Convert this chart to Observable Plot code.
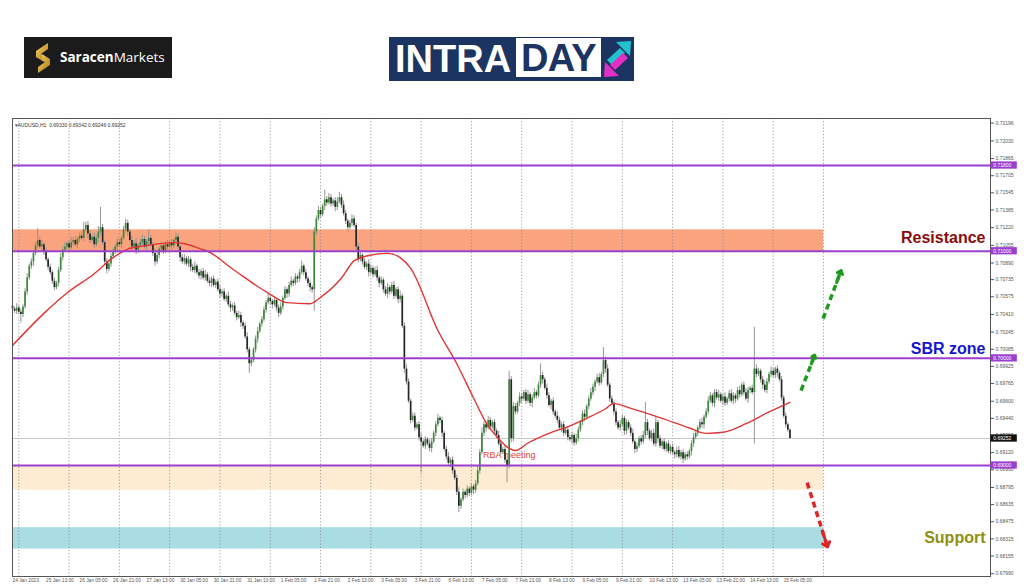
<!DOCTYPE html>
<html><head><meta charset="utf-8">
<script src="https://cdn.jsdelivr.net/npm/d3@7"></script>
<script src="https://cdn.jsdelivr.net/npm/@observablehq/plot@0.6"></script>
<style>
body{margin:0;background:#fff;}
#wrap{position:relative;width:1024px;height:587px;overflow:hidden;font-family:"Liberation Sans",Arial,sans-serif;}
#chart{position:absolute;left:0;top:0;}
.saracen{position:absolute;left:24px;top:37px;width:148px;height:41px;background:#1b1b1b;}
.saracen .txt{position:absolute;left:36px;top:0;line-height:41px;font-family:"Open Sans",sans-serif;font-size:13.5px;color:#fff;white-space:nowrap;}
.intra{position:absolute;left:389px;top:37px;width:245px;height:44px;background:#1c3461;}
.intra .a{position:absolute;left:6px;top:0;line-height:44px;font-weight:bold;font-size:38px;color:#fff;letter-spacing:0px;}
.intra .b{position:absolute;left:127px;top:1px;width:85px;height:39px;background:#fff;text-align:center;line-height:40px;font-weight:bold;font-size:38px;color:#1c3461;letter-spacing:-0.5px;}
</style></head><body>
<div id="wrap">
  <div id="chart"></div>
  <div class="saracen">
    <svg style="position:absolute;left:9px;top:6px" width="20" height="30" viewBox="0 0 20 30">
      <defs><linearGradient id="gold" x1="0" y1="0" x2="1" y2="1"><stop offset="0" stop-color="#f8d468"/><stop offset="1" stop-color="#a8740f"/></linearGradient></defs>
      <path d="M15 0 L3 8 L3 14 L11 19 L11 13 L8 11 L15 6 Z" fill="url(#gold)"/>
      <path d="M5 30 L17 22 L17 16 L9 11 L9 17 L12 19 L5 24 Z" fill="url(#gold)"/>
    </svg>
    <div class="txt"><b style="font-weight:700">Saracen</b><span style="font-weight:400">Markets</span></div>
  </div>
  <div class="intra">
    <div class="a">INTRA</div>
    <div class="b">DAY</div>
    <svg style="position:absolute;left:214px;top:3px" width="29" height="38" viewBox="0 0 29 38">
      <polygon points="28,1 13,2 27,16" fill="#22c3cf"/>
      <polygon points="17,8 22,13 9,25 4,20" fill="#22c3cf"/>
      <polygon points="1,37 16,36 2,22" fill="#e22fc4"/>
      <polygon points="12,30 7,25 20,13 25,18" fill="#e22fc4"/>
    </svg>
  </div>
</div>
<script>
// ---- data (prices in pips x 1e-4) ----
const symbol = "AUDUSD,H1";
const firstOpen = 7049;
const closes = [
7046,7044,7047,7043,7041,7048,7062,7075,7086,7090,7098,7105,7110,7104,7106,7100,7092,7085,7080,7072,7066,7070,7082,7094,
7101,7104,7107,7103,7108,7110,7106,7111,7114,7112,7120,7124,7116,7110,7113,7106,7112,7118,7122,7108,7090,7083,7088,7095,
7100,7104,7108,7106,7112,7120,7126,7118,7110,7104,7107,7101,7105,7108,7111,7104,7109,7112,7106,7098,7090,7096,7102,7105,
7100,7106,7104,7108,7105,7110,7113,7104,7094,7090,7093,7088,7092,7085,7082,7086,7080,7077,7081,7075,7078,7072,7070,7074,
7068,7071,7064,7060,7062,7055,7058,7050,7047,7049,7042,7038,7040,7033,7030,7020,7008,6995,6998,7008,7018,7025,7032,7036,
7045,7052,7056,7053,7050,7054,7047,7042,7048,7056,7064,7060,7068,7072,7070,7076,7074,7080,7086,7080,7074,7070,7066,7064,
7118,7130,7138,7134,7142,7148,7145,7150,7144,7147,7141,7146,7150,7143,7135,7128,7122,7126,7130,7124,7104,7092,7096,7090,
7085,7088,7080,7084,7078,7082,7075,7070,7073,7064,7060,7066,7062,7068,7058,7064,7055,7058,7030,6990,6978,6960,6942,6946,
6935,6938,6926,6922,6918,6924,6920,6916,6922,6930,6938,6944,6942,6930,6915,6908,6902,6905,6895,6888,6875,6862,6868,6875,
6872,6878,6874,6880,6877,6883,6895,6912,6930,6938,6935,6942,6936,6940,6932,6928,6920,6912,6915,6905,6900,6980,6925,6955,
6950,6958,6964,6962,6968,6960,6966,6958,6963,6968,6965,6975,6984,6980,6972,6965,6956,6960,6950,6946,6942,6935,6938,6930,
6933,6926,6924,6928,6921,6925,6933,6940,6948,6945,6955,6962,6968,6973,6978,6982,6977,6985,6998,6990,6975,6962,6958,6950,
6940,6935,6938,6944,6932,6940,6935,6930,6922,6915,6918,6925,6922,6928,6940,6932,6925,6930,6920,6940,6925,6918,6922,6915,
6920,6913,6917,6912,6910,6914,6908,6912,6906,6910,6908,6913,6920,6926,6930,6935,6940,6938,6945,6950,6960,6965,6958,6968,
6963,6966,6960,6964,6958,6962,6967,6960,6965,6962,6970,6966,6975,6968,6962,6970,6972,6968,6990,6985,6988,6980,6975,6970,
6978,6985,6988,6984,6990,6986,6980,6963,6946,6938,6933,6925.2];
const wickUp = [
3,2,4,2,3,2,3,4,2,3,2,3,11,3,4,2,3,2,3,2,3,2,3,4,
3,4,2,3,5,3,4,2,3,4,7,3,4,3,2,4,3,5,19,3,2,3,4,3,
3,2,4,3,2,3,4,3,2,4,3,5,2,3,4,3,2,8,3,2,4,3,2,3,
2,3,4,2,3,2,4,3,2,3,4,2,3,2,3,4,2,3,2,3,4,2,3,2,
3,2,3,4,2,3,2,4,3,2,3,2,4,3,2,3,4,2,3,2,3,4,2,3,
3,2,4,3,2,3,2,3,4,2,3,2,3,4,2,3,2,3,5,2,3,2,3,2,
4,3,4,3,2,9,3,4,3,2,3,4,5,3,4,3,2,3,4,3,2,4,3,2,
3,2,4,3,2,3,4,2,3,2,3,4,2,3,4,2,3,5,2,3,4,3,2,3,
3,2,3,4,2,3,2,4,3,2,3,4,2,3,2,3,4,2,3,2,3,4,2,3,
2,3,2,3,2,3,4,3,5,3,2,4,3,2,3,2,4,3,2,3,2,8,3,4,
3,2,4,3,2,3,4,2,3,4,2,3,11,3,2,4,3,2,3,2,4,3,2,3,
2,3,2,3,2,4,3,2,3,4,2,3,4,3,2,3,4,2,12,3,4,2,3,2,
3,2,4,3,2,3,2,3,4,2,3,2,3,4,19,3,2,3,4,5,2,3,2,3,
2,3,2,3,2,3,4,2,3,2,3,2,3,4,3,2,3,4,2,3,4,3,2,3,
3,4,2,3,4,2,3,4,3,2,3,4,2,3,4,3,2,3,39,4,3,2,3,4,
3,2,4,3,2,3,2,3,2,3,2,1.2];
const wickDn = [
3,2,3,2,8,3,2,3,2,3,4,2,3,2,3,4,2,3,2,3,3,2,3,2,
3,2,3,4,2,3,2,4,3,2,3,2,4,3,2,3,2,4,3,2,3,4,2,3,
2,3,4,2,3,2,3,4,2,3,2,4,3,2,3,2,3,4,2,3,4,2,3,2,
3,2,3,2,4,3,2,3,4,2,3,2,3,4,2,3,2,3,4,2,3,2,3,4,
2,3,2,4,3,2,3,2,4,3,2,3,2,4,3,2,3,9,3,2,3,4,2,3,
2,3,2,3,4,2,3,4,2,3,2,4,3,2,3,2,4,3,2,3,2,3,4,3,
20,3,2,3,2,4,3,2,3,2,4,3,2,3,2,3,4,2,3,2,4,3,2,3,
2,3,4,2,3,2,3,4,2,3,2,4,3,2,3,2,4,3,2,4,3,2,3,2,
3,2,3,29,2,3,2,3,4,2,3,2,3,4,2,3,2,4,3,2,3,6,3,2,
3,2,3,2,4,3,2,3,2,3,4,2,3,2,4,3,2,3,2,3,16,3,4,3,
3,2,3,4,2,3,2,3,4,2,3,2,3,4,2,3,2,4,3,2,3,2,4,3,
2,3,2,4,3,2,3,2,3,4,2,3,2,3,4,2,3,2,3,4,2,3,2,3,
3,2,3,2,4,3,2,3,2,4,3,2,3,2,3,4,2,3,2,3,4,2,3,2,
3,2,3,2,4,3,2,3,4,2,3,2,4,3,2,3,2,3,4,2,3,2,3,4,
2,3,2,4,3,2,3,2,3,4,2,3,2,3,2,4,3,2,48,3,2,3,4,2,
3,2,3,2,3,4,2,3,2,3,2,0.6];

// moving average (bar index, value)
const maIdx = [0,15,26,39,48,55,63,77,82,90,93,106,122,131,142,147,157,163,170,179,185,190,203,212,220,226,232,237,240,246,256,266,274,283,287,294,310,323,331,339,350,361,371];
const maVal = [0.7012,0.7042,0.7061,0.7079,0.7094,0.7102,0.7105,0.7108,0.7107,0.7102,0.7100,0.7082,0.7061,0.7052,0.7051,0.7057,0.7075,0.7091,0.7096,0.7098,0.7094,0.7084,0.7026,0.6995,0.6963,0.6940,0.6925,0.6916,0.6914,0.6921,0.6930,0.6937,0.6944,0.6953,0.6958,0.6954,0.6944,0.6935,0.6930,0.6931,0.6939,0.6950,0.6959];

const yTicks = [0.72196,0.72030,0.71865,0.71705,0.71545,0.71385,0.71220,0.71055,0.70890,0.70735,0.70575,0.70410,0.70245,0.70085,0.69925,0.69765,0.69600,0.69440,0.69280,0.69120,0.68960,0.68795,0.68635,0.68475,0.68315,0.68155,0.67990];
const xLabIdx = [0,16,32,48,64,80,96,112,128,144,160,176,192,208,224,240,256,272,288,304,320,336,352,368];
const xLabels = ["24 Jan 2023","25 Jan 13:00","26 Jan 05:00","26 Jan 21:00","27 Jan 13:00","30 Jan 05:00","30 Jan 21:00","31 Jan 13:00","1 Feb 05:00","1 Feb 21:00","2 Feb 13:00","3 Feb 05:00","3 Feb 21:00","6 Feb 13:00","7 Feb 05:00","7 Feb 21:00","8 Feb 13:00","9 Feb 05:00","9 Feb 21:00","10 Feb 13:00","13 Feb 05:00","13 Feb 21:00","14 Feb 13:00","15 Feb 05:00"];
const dayStartIdx = [3,27,51,75,99,123,147,171,195,219,243,267,291,315,339,363,387];

const levels = [0.718, 0.710, 0.700, 0.690];
const zoneLo = [0.7100, 0.6877, 0.6822];
const zoneHi = [0.7120, 0.6900, 0.6842];
const zoneColor = ["#f9a47e", "#fdebd2", "#a9dde3"];
const zoneEndIdx = 387;

const notes = ["Resistance", "SBR zone", "Support"];
const noteY = [0.71128, 0.70092, 0.68328];
const noteColor = ["#8b0b0b", "#1414d6", "#8f8f12"];

const arrowX1 = [386.8, 376.3, 379.2];
const arrowY1 = [0.7037, 0.6970, 0.6884];
const arrowX2 = [395.4, 382.8, 388.9];
const arrowY2 = [0.7082, 0.7003, 0.6824];
const arrowColor = ["#1f9a1f", "#1f9a1f", "#e02424"];

const eventLabel = {i: 224.5, p: 0.69093, text: "RBA meeting"};

// ---- build tables ----
const bars = closes.map((c, i) => {
  const o = i === 0 ? firstOpen : closes[i - 1];
  const h = Math.max(o, c) + wickUp[i];
  const l = Math.min(o, c) - wickDn[i];
  return {i, o: o / 1e4, c: c / 1e4, h: h / 1e4, l: l / 1e4};
});
const last = bars[bars.length - 1];
const f5 = d3.format(".5f");
const ma = maIdx.map((i, k) => ({i, v: maVal[k]}));
const zones = zoneLo.map((lo, k) => ({lo, hi: zoneHi[k], color: zoneColor[k]}));
const noteData = notes.map((t, k) => ({t, y: noteY[k], color: noteColor[k]}));
const arrows = arrowX1.map((x1, k) => ({x1, y1: arrowY1[k], x2: arrowX2[k], y2: arrowY2[k], color: arrowColor[k]}));
const xLab = xLabIdx.map((i, k) => ({i, t: xLabels[k]}));
const priceLabs = levels.map(p => ({p, bg: "#9b3fcf"})).concat([{p: last.c, bg: "#111"}]);

const xMax = 466.7;
const boxH = 0.00034;

const chart = Plot.plot({
  width: 1024, height: 587,
  marginTop: 118, marginBottom: 11, marginLeft: 12, marginRight: 34,
  x: {domain: [0, xMax], axis: null},
  y: {domain: [0.67964, 0.72239], axis: null},
  style: {background: "transparent", fontFamily: "Liberation Sans, Arial, sans-serif", overflow: "visible"},
  marks: [
    Plot.rect(zones, {x1: 0, x2: zoneEndIdx, y1: "lo", y2: "hi", fill: d => d.color}),
    Plot.ruleX(dayStartIdx, {stroke: "#8a8a8a", strokeWidth: 0.8, strokeDasharray: "1.2,2"}),
    Plot.ruleY([last.c], {stroke: "#c8c8c8", strokeWidth: 1}),
    Plot.text([eventLabel], {x: "i", y: "p", text: "text", fill: "#e0443c", fontSize: 9, textAnchor: "start"}),
    Plot.ruleX(bars, {x: "i", y1: "l", y2: "h", stroke: "#959595", strokeWidth: 1}),
    Plot.ruleX(bars.filter(d => d.c >= d.o), {x: "i", y1: "o", y2: "c", stroke: "#3a8a3a", strokeWidth: 1.7}),
    Plot.ruleX(bars.filter(d => d.c < d.o), {x: "i", y1: "o", y2: "c", stroke: "#262626", strokeWidth: 1.7}),
    Plot.line(ma, {x: "i", y: "v", stroke: "#e03535", strokeWidth: 1.4, curve: "monotone-x"}),
    Plot.ruleY(levels, {stroke: "#9b3fcf", strokeWidth: 2}),
    Plot.frame({stroke: "#555", strokeWidth: 1}),
    Plot.axisY(yTicks, {anchor: "right", tickFormat: f5, fontSize: 5, tickSize: 3, tickPadding: 2, color: "#555", label: null}),
    Plot.rect(priceLabs, {x1: xMax + 0.2, x2: xMax + 12.8, y1: d => d.p - boxH, y2: d => d.p + boxH, fill: d => d.bg}),
    Plot.text(priceLabs, {x: xMax + 1.3, y: "p", text: d => f5(d.p), fill: "#fff", fontSize: 5, textAnchor: "start"}),
    Plot.text(xLab, {x: "i", text: "t", frameAnchor: "bottom", dy: 5, textAnchor: "start", fontSize: 4.8, fill: "#555"}),
    Plot.text([`\u25BE${symbol}  ${f5(last.o)} ${f5(last.h)} ${f5(last.l)} ${f5(last.c)}`], {text: d => d, frameAnchor: "top-left", dx: 2, dy: 5, fontSize: 5, fill: "#333", textAnchor: "start"}),
    Plot.link(arrows, {x1: "x1", y1: "y1", x2: "x2", y2: "y2", stroke: d => d.color, strokeWidth: 3.5, strokeDasharray: "6,4"}),
    Plot.arrow(arrows, {x1: d => d.x1 + 0.75 * (d.x2 - d.x1), y1: d => d.y1 + 0.75 * (d.y2 - d.y1), x2: "x2", y2: "y2", stroke: d => d.color, strokeWidth: 3, headLength: 10, headAngle: 80}),
    Plot.text(noteData, {frameAnchor: "right", y: "y", text: "t", fill: d => d.color, dx: -5, textAnchor: "end", fontSize: 16, fontWeight: "bold"})
  ]
});
document.getElementById("chart").appendChild(chart);
</script>
</body></html>
